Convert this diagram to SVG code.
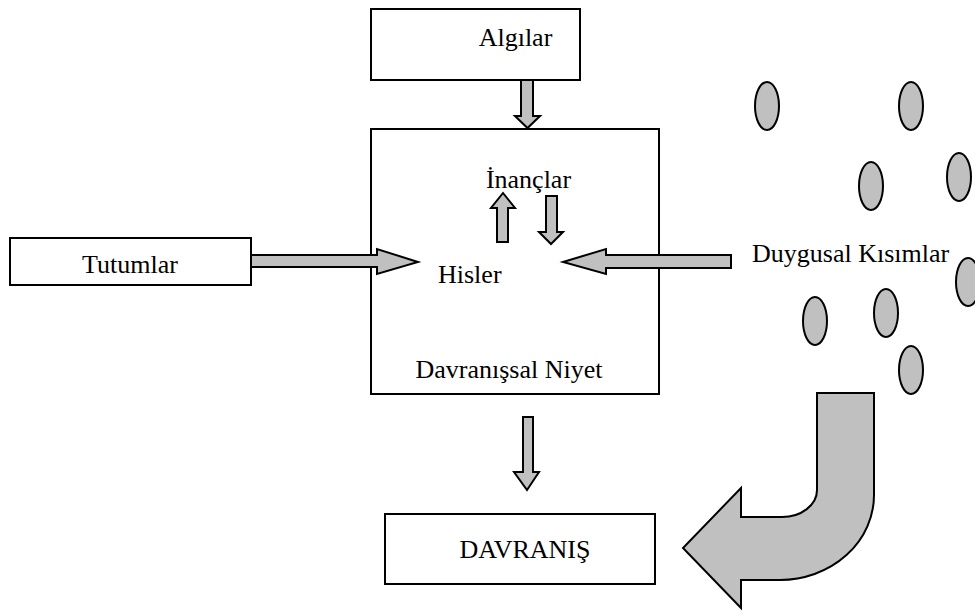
<svg xmlns="http://www.w3.org/2000/svg" width="975" height="613" viewBox="0 0 975 613">
<style>
.box{fill:#fff;stroke:#000;stroke-width:2}
.arr{fill:#c0c0c0;stroke:#000;stroke-width:2;stroke-linejoin:miter}
.ell{fill:#c0c0c0;stroke:#000;stroke-width:2}
text{font-family:"Liberation Serif","Times New Roman",serif;font-size:26px;fill:#000}
</style>
<rect width="975" height="613" fill="#fff"/>
<g id="algilar"><rect class="box" x="371" y="9" width="209" height="71"/><text x="515.5" y="46" text-anchor="middle">Algılar</text></g>
<g id="niyet"><rect class="box" x="371" y="129" width="288" height="265"/>
<text x="528.5" y="188" text-anchor="middle">İnançlar</text>
<text x="438" y="283">Hisler</text>
<text x="509" y="378" text-anchor="middle">Davranışsal Niyet</text></g>
<g id="tutumlar"><rect class="box" x="10" y="238" width="241" height="47"/><text x="130" y="273" text-anchor="middle">Tutumlar</text></g>
<g id="davranis"><rect class="box" x="385" y="514" width="270" height="70"/><text x="525" y="558" text-anchor="middle">DAVRANIŞ</text></g>
<g id="duygusal">
<text x="752" y="262">Duygusal Kısımlar</text>
<ellipse class="ell" cx="767" cy="106" rx="12" ry="24"/>
<ellipse class="ell" cx="911" cy="106" rx="12" ry="24"/>
<ellipse class="ell" cx="871" cy="186" rx="12" ry="24"/>
<ellipse class="ell" cx="959" cy="177" rx="12" ry="24"/>
<ellipse class="ell" cx="968" cy="282" rx="12" ry="24"/>
<ellipse class="ell" cx="815" cy="321" rx="12" ry="24"/>
<ellipse class="ell" cx="886" cy="313" rx="12" ry="24"/>
<ellipse class="ell" cx="911" cy="370" rx="12" ry="24"/>
</g>
<g id="connectors">
<polygon class="arr" points="521,80 533,80 533,116 540,116 527.5,128 515,116 521,116"/>
<polygon class="arr" points="497,242 508,242 508,208 515,208 503,193 491,208 497,208"/>
<polygon class="arr" points="546,196 557,196 557,232 563,232 551,244 539,232 546,232"/>
<polygon class="arr" points="251,255 377,255 377,249 418,262 377,274 377,267 251,267"/>
<polygon class="arr" points="731,255 606,255 606,249 563,262 606,274 606,268 731,268"/>
<polygon class="arr" points="523,417 533,417 533,472 539,472 527,490 514,472 523,472"/>
<path class="arr" d="M817 393 L874 393 L874 495 A94 85 0 0 1 780 580 L741 580 L741 608 L683 548 L741 488 L741 517 L782 517 A35 27 0 0 0 817 490 Z"/>
</g>
</svg>
